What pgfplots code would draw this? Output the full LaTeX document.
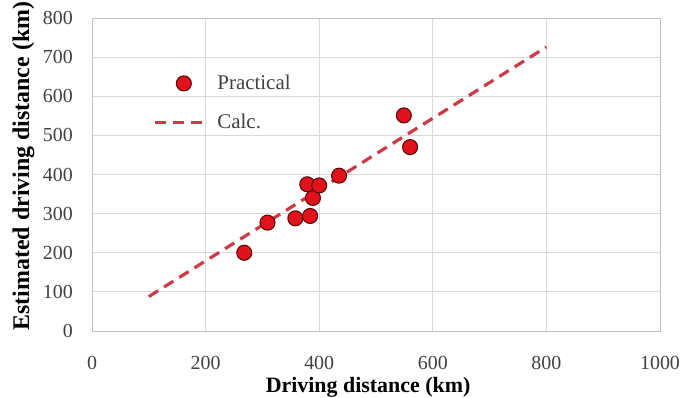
\documentclass[border=0pt]{standalone}
\usepackage{fontspec}
\setmainfont{Liberation Serif}
\usepackage{pgfplots}
\pgfplotsset{compat=1.18}

\definecolor{ptfill}{RGB}{226,18,28}
\definecolor{ptedge}{RGB}{90,10,10}
\definecolor{calcred}{RGB}{204,58,70}
\definecolor{gridgray}{RGB}{217,217,217}
\definecolor{framegray}{RGB}{191,191,191}
\definecolor{labelgray}{RGB}{64,64,64}

% measured driving distance vs. estimated driving distance (km)
\pgfplotstableread{
x   y
268 200
309 277
358 288
384 294
389 340
379 375
400 372
435 397
549 551
560 470
}\practical

% calculated relation
\pgfplotstableread{
x   y
100 88
800 726
}\calc

\begin{document}
\begin{tikzpicture}
\path[use as bounding box] (-92bp,-67bp) rectangle (592bp,331bp);
\begin{axis}[
  at={(0,0)}, anchor=south west,
  scale only axis,
  width=568bp, height=313bp,
  xmin=0, xmax=1000, ymin=0, ymax=800,
  xtick={0,200,...,1000},
  ytick={0,100,...,800},
  major tick length=0pt,
  grid=major,
  grid style={gridgray, line width=0.8bp},
  axis line style={framegray, line width=0.8bp},
  /pgf/number format/assume math mode=true,
  /pgf/number format/1000 sep={},
  tick label style={font=\fontsize{20}{24}\selectfont, text=labelgray},
  xticklabel style={anchor=center, inner sep=0pt, yshift=-31.5bp},
  yticklabel style={anchor=east, inner sep=0pt, xshift=-19bp},
  xlabel={Driving distance (km)},
  ylabel={Estimated driving distance (km)},
  every axis x label/.style={at={(axis description cs:0.486,-0.196)}, anchor=base,
    font=\bfseries\fontsize{22}{26}\selectfont},
  every axis y label/.style={at={(axis description cs:-0.1109,0.527)}, rotate=90, anchor=base,
    font=\bfseries\fontsize{24}{28}\selectfont},
  legend cell align=left,
  legend style={draw=none, fill=none, at={(axis description cs:0.1074,0.8204)}, anchor=north west,
    font=\fontsize{21}{25}\selectfont, text=labelgray, row sep=21bp, column sep=7bp,
    inner sep=0pt, nodes={inner sep=1bp}},
]
\addplot[only marks, mark=*, mark size=7.5bp,
  mark options={fill=ptfill, draw=ptedge, line width=1.1bp},
  legend image code/.code={
    \path (0bp,0bp) (53bp,0bp);
    \path (21bp,0bp) node[circle, inner sep=0pt, minimum size=15bp,
      fill=ptfill, draw=ptedge, line width=1.1bp] {};
  }] table[x=x, y=y] {\practical};
\addlegendentry{Practical}
\addplot[calcred, line width=3.2bp, dash pattern=on 11bp off 7bp,
  legend image code/.code={
    \draw[calcred, line width=3.2bp, dash pattern=on 11bp off 7bp] (0bp,0bp) -- (53bp,0bp);
  }] table[x=x, y=y] {\calc};
\addlegendentry{Calc.}
\end{axis}
\end{tikzpicture}
\end{document}
